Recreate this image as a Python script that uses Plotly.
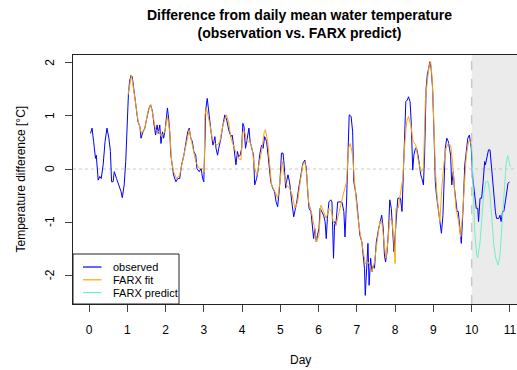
import plotly.graph_objects as go

# ---- data ----
obs_day = [0.04,0.08,0.12,0.17,0.19,0.24,0.28,0.32,0.37,0.42,0.47,0.52,0.56,0.59,0.63,0.66,0.72,0.78,0.84,0.87,0.92,0.96,0.99,
           1.03,1.06,1.10,1.13,1.17,1.20,1.24,1.28,1.33,1.36,1.41,1.46,1.52,1.57,1.61,1.66,1.69,1.74,1.78,1.81,1.85,1.88,1.92,1.95,1.99,
           2.02,2.05,2.08,2.11,2.14,2.18,2.21,2.27,2.32,2.37,2.42,2.48,2.53,2.58,2.62,2.66,2.70,2.74,2.79,2.82,2.88,2.93,2.97,
           3.00,3.03,3.05,3.09,3.13,3.16,3.20,3.24,3.29,3.32,3.36,3.39,3.44,3.50,3.55,3.60,3.65,3.71,3.74,3.78,3.81,3.84,3.88,3.91,3.95,3.99,
           4.02,4.05,4.09,4.14,4.18,4.21,4.25,4.30,4.33,4.38,4.42,4.46,4.51,4.55,4.59,4.64,4.68,4.72,4.75,4.80,4.85,4.89,4.93,4.96,4.99,
           5.03,5.07,5.10,5.14,5.17,5.20,5.24,5.27,5.31,5.35,5.38,5.43,5.48,5.54,5.59,5.64,5.68,5.71,5.75,5.80,5.83,5.87,5.90,5.94,5.97,
           6.01,6.04,6.08,6.13,6.17,6.20,6.23,6.27,6.32,6.35,6.39,6.42,6.45,6.50,6.56,6.61,6.66,6.69,6.73,6.77,6.80,6.85,6.89,6.92,6.98,
           7.03,7.08,7.13,7.16,7.20,7.22,7.25,7.29,7.32,7.36,7.39,7.43,7.46,7.51,7.57,7.62,7.65,7.69,7.72,7.75,7.79,7.83,7.86,7.90,7.93,7.97,
           8.00,8.04,8.07,8.11,8.14,8.18,8.21,8.25,8.28,8.32,8.35,8.39,8.42,8.46,8.49,8.53,8.56,8.60,8.63,8.67,8.70,8.74,8.77,8.81,8.84,8.88,8.91,8.94,8.98,
           9.02,9.05,9.08,9.14,9.17,9.21,9.25,9.28,9.31,9.35,9.39,9.42,9.45,9.48,9.52,9.55,9.59,9.62,9.65,9.69,9.73,9.78,9.82,9.86,9.90,9.94,9.99,
           10.03,10.07,10.12,10.16,10.18,10.22,10.26,10.30,10.34,10.36,10.41,10.44,10.48,10.51,10.55,10.58,10.62,10.65,10.71,10.74,10.77,10.81,10.84,10.88,10.92,10.95,10.99]
obs_val = [0.67,0.77,0.52,0.20,0.26,-0.21,-0.14,-0.18,0.08,0.52,0.77,0.58,0.33,-0.24,-0.24,-0.05,-0.18,-0.30,-0.43,-0.54,-0.30,0.14,0.89,
           1.40,1.65,1.77,1.74,1.52,1.27,1.05,0.89,0.80,0.58,0.70,0.77,0.99,1.15,1.21,1.08,0.89,0.64,0.83,0.67,0.83,0.48,0.70,0.58,0.74,
           0.96,1.15,0.96,0.70,0.26,0.01,-0.11,-0.24,-0.18,-0.18,0.08,0.26,0.52,0.70,0.77,0.58,0.52,0.33,0.26,0.01,-0.05,0.01,-0.18,
           -0.24,0.50,1.11,1.33,1.05,0.83,0.64,0.45,0.61,0.39,0.26,0.39,0.55,0.83,1.02,0.92,0.74,0.61,0.64,0.45,0.30,0.08,0.33,0.23,0.26,0.39,
           0.86,0.80,0.39,0.58,0.77,0.52,0.39,0.26,-0.30,-0.18,-0.02,0.26,0.45,0.39,0.61,0.52,0.26,0.01,-0.24,-0.36,-0.43,-0.62,-0.71,-0.49,-0.24,
           0.30,0.30,0.08,-0.36,-0.21,-0.11,-0.24,-0.49,-0.68,-0.90,-0.80,-0.62,-0.36,-0.05,0.11,0.17,0.01,-0.36,-0.74,-0.80,-0.99,-1.31,-1.12,-1.37,-1.25,
           -1.12,-0.74,-0.80,-0.87,-0.99,-1.31,-0.93,-0.62,-0.58,-0.62,-1.68,-0.99,-1.06,-0.62,-0.62,-0.62,-0.80,-1.28,-0.62,0.39,1.02,0.99,0.70,-0.24,-0.49,
           -0.87,-1.25,-1.37,-1.62,-1.87,-2.38,-1.87,-1.40,-2.19,-1.68,-1.94,-1.81,-1.87,-1.37,-1.12,-0.93,-0.87,-1.12,-1.62,-1.75,-1.56,-1.12,-0.58,-0.74,-1.12,-1.56,
           -1.25,-0.80,-0.55,-0.55,-0.55,-0.80,-0.18,0.64,1.27,1.30,1.36,1.27,0.89,-0.02,0.26,0.39,0.39,0.26,0.08,-0.11,-0.18,-0.30,0.26,1.52,1.77,1.90,2.02,1.90,1.52,
           0.58,-0.24,-0.49,-0.87,-1.06,-1.21,-0.87,-0.24,0.39,0.58,0.52,0.39,0.26,-0.30,-0.05,-0.36,-0.62,-0.80,-0.80,-1.18,-1.40,-0.68,0.08,0.33,0.58,0.64,0.39,
           -0.18,-0.49,-0.74,-0.74,-0.99,-0.55,-0.55,-0.24,0.14,0.08,0.26,0.36,0.36,0.08,-0.24,-0.55,-0.80,-0.93,-0.93,-0.87,-0.99,-0.80,-0.80,-0.62,-0.43,-0.27,-0.24]

fit_day = [1.02,1.11,1.20,1.28,1.37,1.46,1.54,1.61,1.67,1.74,1.83,1.89,1.98,2.05,2.11,2.16,2.21,2.29,2.37,2.44,2.53,2.62,2.70,2.79,2.88,2.97,
           3.01,3.03,3.07,3.10,3.16,3.22,3.29,3.36,3.42,3.50,3.59,3.65,3.71,3.77,3.90,3.97,4.02,4.07,4.12,4.20,4.26,4.33,4.39,4.44,4.51,4.58,4.61,4.67,4.72,4.77,4.86,4.93,4.98,
           5.05,5.10,5.16,5.24,5.31,5.38,5.45,5.52,5.59,5.64,5.69,5.74,5.81,5.88,5.95,6.01,6.06,6.13,6.20,6.27,6.34,6.38,6.45,6.54,6.61,6.66,6.73,6.78,6.83,6.89,6.94,
           7.01,7.08,7.15,7.22,7.29,7.34,7.39,7.46,7.53,7.60,7.65,7.71,7.76,7.81,7.86,7.92,7.97,8.00,8.02,8.08,8.14,8.20,8.25,8.30,8.35,8.41,8.47,8.54,8.61,8.68,8.74,
           8.79,8.84,8.89,8.93,8.96,8.99,9.05,9.10,9.15,9.17,9.22,9.28,9.33,9.39,9.45,9.50,9.55,9.59,9.66,9.71,9.76,9.82,9.86,9.92,9.97,10.00]
fit_val = [1.40,1.77,1.33,0.92,0.67,0.77,1.08,1.21,1.02,0.74,0.70,0.61,0.70,0.99,0.70,0.14,-0.05,-0.18,-0.11,0.14,0.48,0.74,0.45,0.14,0.01,0.01,
           -0.05,1.02,1.15,1.05,0.83,0.58,0.48,0.45,0.52,0.83,1.02,0.89,0.58,0.45,0.20,0.17,0.70,0.70,0.52,0.52,0.39,0.01,-0.11,0.08,0.33,0.70,0.74,0.52,0.01,-0.30,-0.43,-0.55,-0.30,
           0.14,-0.11,-0.30,-0.36,-0.49,-0.74,-0.62,-0.24,0.08,0.14,-0.11,-0.62,-0.80,-1.06,-1.37,-1.25,-0.68,-0.80,-0.93,-0.74,-0.80,-0.99,-1.06,-0.80,-0.55,-0.43,-0.24,0.39,0.48,0.26,-0.24,
           -0.80,-1.18,-1.50,-1.78,-1.75,-1.81,-1.94,-1.75,-1.37,-0.99,-0.99,-1.37,-1.68,-1.37,-0.93,-0.99,-1.37,-1.78,-0.74,-0.74,-0.49,-0.18,0.45,0.89,0.99,0.83,0.52,0.45,0.14,-0.05,0.01,
           1.27,1.65,1.96,2.02,1.77,1.33,0.01,-0.55,-0.87,-0.99,-0.36,0.14,0.39,0.48,0.45,0.14,-0.36,-0.74,-0.99,-1.28,-0.87,-0.24,0.26,0.52,0.52,0.42]

pred_day = [10.00,10.04,10.08,10.13,10.16,10.22,10.27,10.32,10.37,10.43,10.48,10.53,10.58,10.63,10.69,10.74,10.79,10.84,10.90,10.94,10.98,11.01]
pred_val = [0.45,-0.36,-1.18,-1.62,-1.67,-1.37,-0.87,-0.43,-0.24,-0.24,-0.49,-0.99,-1.43,-1.68,-1.81,-1.62,-1.12,-0.49,0.08,0.26,0.14,0.04]

x_ticks = list(range(0, 12))
y_ticks = [-2, -1, 0, 1, 2]
forecast_start = 10

series_names = ["observed", "FARX fit", "FARX predict"]
series_colors = ["#0000FF", "#FFA500", "#76EEC6"]

FONT = "Liberation Sans, Arial, sans-serif"

fig = go.Figure()
for name, color, xs, ys in zip(series_names, series_colors,
                               [obs_day, fit_day, pred_day], [obs_val, fit_val, pred_val]):
    fig.add_trace(go.Scatter(x=xs, y=ys, mode="lines", name=name,
                             line=dict(color=color, width=1), showlegend=False))

# forecast region shading + reference lines
fig.add_shape(type="rect", xref="x", yref="paper", x0=forecast_start, x1=12, y0=0, y1=1,
              fillcolor="#EBEBEB", line=dict(width=0), layer="below")
fig.add_shape(type="line", xref="x", yref="paper", x0=forecast_start, x1=forecast_start, y0=0, y1=1,
              line=dict(color="#C8C8C8", width=1.5, dash="dash"), layer="below")
fig.add_shape(type="line", xref="paper", yref="y", x0=0, x1=1, y0=0, y1=0,
              line=dict(color="#C8C8C8", width=1, dash="dot"), layer="below")

# legend box (R-style, bottom-left corner of the plot)
PLOT_W, PLOT_H = 444.0, 249.0
def px_x(px):  # pixel offset from plot left -> paper
    return px / PLOT_W
def px_y(px):  # pixel offset from plot bottom -> paper
    return px / PLOT_H

fig.add_shape(type="rect", xref="paper", yref="paper", x0=0, x1=px_x(106), y0=0, y1=px_y(50),
              fillcolor="white", line=dict(color="#222", width=1), layer="above")
annotations = []
for i, (name, color) in enumerate(zip(series_names, series_colors)):
    yy = px_y(37 - 12.8 * i)
    fig.add_shape(type="line", xref="paper", yref="paper", x0=px_x(10), x1=px_x(28.5), y0=yy, y1=yy,
                  line=dict(color=color, width=1.2), layer="above")
    annotations.append(dict(text=name, xref="paper", yref="paper", x=px_x(38), y=yy,
                            xanchor="left", yanchor="middle", showarrow=False,
                            font=dict(size=11)))

# y tick labels, rotated (R style), placed at the tick values
for v in y_ticks:
    annotations.append(dict(text=str(v), xref="paper", yref="y", x=0, y=v, xshift=-23,
                            xanchor="center", yanchor="middle", textangle=-90,
                            showarrow=False, font=dict(size=12)))

annotations += [
    dict(text="<b>Difference from daily mean water temperature<br>(observation vs. FARX predict)</b>",
         xref="paper", yref="paper", x=0.51, y=1, yshift=31, xanchor="center", yanchor="middle",
         showarrow=False, font=dict(size=14), align="center"),
    dict(text="Day", xref="paper", yref="paper", x=0.512, y=0, yshift=-56,
         xanchor="center", yanchor="middle", showarrow=False, font=dict(size=12)),
    dict(text="Temperature difference [°C]", xref="paper", yref="paper", x=0, y=0.5,
         xshift=-53, xanchor="center", yanchor="middle", textangle=-90,
         showarrow=False, font=dict(size=12)),
]

fig.update_layout(
    width=517, height=370,
    margin=dict(l=73, r=0, t=55, b=66),
    paper_bgcolor="white", plot_bgcolor="white",
    font=dict(family=FONT, size=12, color="black"),
    showlegend=False,
    xaxis=dict(range=[-0.418, 11.185], tickvals=x_ticks, ticks="outside", ticklen=7,
               tickcolor="#444", showgrid=False, zeroline=False,
               showline=True, linecolor="#222", linewidth=1, mirror=True,
               ticklabelstandoff=8, tickfont=dict(size=12)),
    yaxis=dict(range=[-2.542, 2.147], tickvals=y_ticks, ticks="outside", ticklen=7,
               tickcolor="#444", showgrid=False, zeroline=False,
               showline=True, linecolor="#222", linewidth=1, mirror=False,
               showticklabels=False),
    annotations=annotations,
)

fig.write_html("out.html")
